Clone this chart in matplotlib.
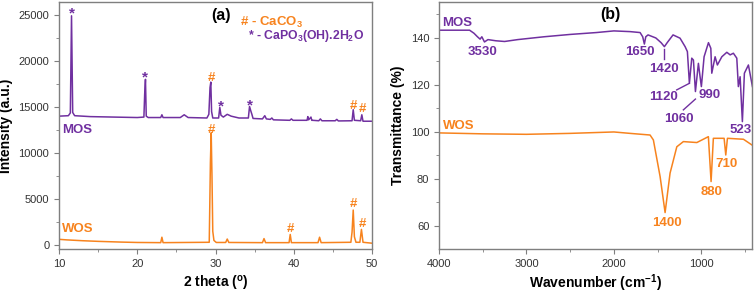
import matplotlib
matplotlib.use("Agg")
import matplotlib.pyplot as plt
from matplotlib.ticker import MultipleLocator

plt.rcParams['font.family'] = ['Liberation Sans', 'DejaVu Sans']
plt.rcParams['mathtext.fontset'] = 'custom'
plt.rcParams['mathtext.bf'] = 'Liberation Sans:bold'
plt.rcParams['mathtext.rm'] = 'Liberation Sans:bold'
plt.rcParams['mathtext.default'] = 'bf'

PURPLE = '#7030A0'
ORANGE = '#F7831E'
GRAY = '#7f7f7f'

# ---- XRD data ----
mos_xrd_2theta = [10.0, 11.2, 11.45, 11.6, 11.75, 12.0, 14.0, 17.0, 20.0, 20.85, 20.95, 21.05, 21.15,
                  21.4, 23.0, 23.15, 23.3, 25.5, 26.0, 26.5, 28.9, 29.15, 29.3, 29.4, 29.5, 29.65,
                  30.4, 30.55, 30.7, 31.0, 31.5, 32.0, 33.0, 34.2, 34.35, 34.5, 34.65, 34.8, 36.0,
                  36.3, 36.5, 37.0, 37.2, 37.4, 39.5, 39.7, 39.9, 41.7, 41.8, 41.9, 42.2, 42.3, 42.4,
                  43.2, 43.4, 43.6, 45.3, 45.5, 45.7, 47.45, 47.6, 47.75, 48.55, 48.7, 48.85, 50.0]
mos_xrd_counts = [14000, 14050, 14350, 24900, 14400, 14050, 13950, 13900, 13850, 13900, 16400, 18000, 14000,
                  13850, 13850, 14150, 13850, 13850, 14150, 13850, 13800, 14200, 17100, 17700, 14500, 13800,
                  13800, 14950, 14100, 13900, 14200, 14000, 13800, 13800, 15050, 14600, 14200, 13750, 13700,
                  14050, 13700, 13650, 13800, 13600, 13550, 13700, 13550, 13550, 13950, 13600, 13900, 13550, 13550,
                  13500, 13700, 13500, 13500, 13650, 13480, 13500, 14700, 13550, 13500, 14150, 13450, 13450]

wos_xrd_2theta = [10.0, 11.0, 13.0, 15.0, 18.0, 20.0, 23.0, 23.15, 23.3, 29.2, 29.35, 29.45, 29.55,
                  29.65, 29.8, 30.1, 31.3, 31.5, 31.7, 36.0, 36.2, 36.4, 39.4, 39.55, 39.7, 43.1, 43.3,
                  43.5, 47.3, 47.45, 47.6, 47.75, 47.95, 48.45, 48.65, 48.85, 50.0]
wos_xrd_counts = [620, 560, 470, 400, 320, 280, 260, 850, 260, 300, 9000, 12200, 7500,
                  1500, 500, 280, 280, 650, 280, 260, 700, 260, 260, 1150, 260, 260, 850,
                  260, 300, 1400, 3800, 900, 300, 300, 1700, 300, 200]

star_2theta = [11.7, 21.05, 30.65, 34.4]
star_y = [25100, 18150, 15000, 15150]
mos_hash_2theta = [29.45, 47.6, 48.75]
mos_hash_y = [18150, 15100, 14750]
wos_hash_2theta = [29.5, 39.6, 47.6, 48.75]
wos_hash_y = [12500, 1750, 4450, 2300]

# ---- FTIR data ----
mos_ir_wn = [4000, 3650, 3600, 3560, 3530, 3510, 3480, 3440, 3350, 3250, 3100, 2800, 2500, 2200,
             2000, 1815, 1700, 1670, 1651, 1635, 1609, 1520, 1460, 1422, 1390, 1323, 1243, 1185,
             1159, 1136, 1109, 1090, 1067, 1033, 1014, 999, 968, 918, 891, 880, 842, 816, 765,
             708, 670, 633, 594, 576, 556, 530, 507, 461, 415]
mos_ir_t = [143.3, 143.3, 142.0, 140.5, 139.5, 140.5, 138.3, 139.3, 138.8, 138.5, 139.3, 140.5, 141.5, 142.3,
            143.0, 142.7, 142.3, 140.5, 137.4, 140.5, 141.3, 140.0, 138.0, 136.3, 138.0, 141.3, 139.9, 136.3,
            134.2, 120.7, 131.4, 130.6, 117.2, 129.2, 123.5, 119.3, 132.0, 138.0, 135.6, 125.0, 132.0, 128.5, 132.0,
            133.9, 132.8, 133.5, 131.4, 119.3, 123.5, 104.4, 125.0, 128.5, 119.3]

wos_ir_wn = [4000, 3500, 3000, 2500, 2000, 1815, 1586, 1548, 1471, 1414, 1357, 1280, 1205, 1051,
             919, 888, 862, 739, 720, 701, 518, 422]
wos_ir_t = [99.6, 99.2, 99.0, 99.4, 100.0, 99.4, 98.7, 96.6, 81.0, 65.7, 82.5, 93.7, 95.9, 95.5,
            98.0, 78.9, 97.3, 97.3, 90.2, 97.3, 96.9, 94.5]

mos_ir_labels = ['3530', '1650', '1420', '1120', '990', '1060', '523']
mos_ir_label_x = [3500, 1700, 1426, 1437, 911, 1254, 545]
mos_ir_label_y = [134.0, 134.0, 126.7, 114.8, 115.7, 105.5, 100.9]
wos_ir_labels = ['1400', '880', '710']
wos_ir_label_x = [1391, 880, 708]
wos_ir_label_y = [61.4, 74.6, 86.4]

fig = plt.figure(figsize=(7.56, 2.96), dpi=100)
ax1 = fig.add_axes([59 / 756, 47 / 296, 313 / 756, 247 / 296])
ax2 = fig.add_axes([439 / 756, 47 / 296, 313 / 756, 247 / 296])

for ax in (ax1, ax2):
    for sp in ax.spines.values():
        sp.set_color(GRAY)
        sp.set_linewidth(1.0)
    ax.tick_params(which='both', direction='out', color=GRAY, labelsize=8, labelcolor='#333333')
    ax.tick_params(which='major', length=3.5)
    ax.tick_params(which='minor', length=2)

# (a) XRD
ax1.plot(mos_xrd_2theta, mos_xrd_counts, color=PURPLE, lw=1.1)
ax1.plot(wos_xrd_2theta, wos_xrd_counts, color=ORANGE, lw=1.1)
ax1.set_xlim(10, 50)
ax1.set_ylim(-430, 26400)
ax1.xaxis.set_major_locator(MultipleLocator(10))
ax1.xaxis.set_minor_locator(MultipleLocator(5))
ax1.yaxis.set_major_locator(MultipleLocator(5000))
ax1.yaxis.set_minor_locator(MultipleLocator(2500))
ax1.set_xlabel('2 theta ($^o$)', fontsize=10, fontweight='bold', labelpad=4)
ax1.set_ylabel('Intensity (a.u.)', fontsize=10, fontweight='bold', labelpad=4)

for x, y in zip(star_2theta, star_y):
    ax1.text(x, y, '*', color=PURPLE, fontsize=11, fontweight='bold', ha='center', va='center')
for x, y in zip(mos_hash_2theta, mos_hash_y):
    ax1.text(x, y, '#', color=ORANGE, fontsize=9.5, fontweight='bold', ha='center', va='center')
for x, y in zip(wos_hash_2theta, wos_hash_y):
    ax1.text(x, y, '#', color=ORANGE, fontsize=9.5, fontweight='bold', ha='center', va='center')

ax1.text(30.7, 24900, '(a)', fontsize=11.5, fontweight='bold', ha='center', va='center')
ax1.text(33.1, 24200, '# - CaCO$_3$', color=ORANGE, fontsize=9.5, fontweight='bold', va='center')
ax1.text(34.2, 22700, '* - CaPO$_3$(OH).2H$_2$O', color=PURPLE, fontsize=8.8, fontweight='bold', va='center')
ax1.text(10.4, 12500, 'MOS', color=PURPLE, fontsize=9.5, fontweight='bold', va='center')
ax1.text(10.4, 1740, 'WOS', color=ORANGE, fontsize=9.5, fontweight='bold', va='center')

# (b) FTIR
ax2.plot(mos_ir_wn, mos_ir_t, color=PURPLE, lw=1.1)
ax2.plot(wos_ir_wn, wos_ir_t, color=ORANGE, lw=1.1)
ax2.set_xlim(4000, 420)
ax2.set_ylim(50.2, 155.3)
ax2.xaxis.set_major_locator(MultipleLocator(1000))
ax2.xaxis.set_minor_locator(MultipleLocator(500))
ax2.yaxis.set_major_locator(MultipleLocator(20))
ax2.yaxis.set_minor_locator(MultipleLocator(10))
ax2.set_xlabel('Wavenumber (cm$^{-1}$)', fontsize=10, fontweight='bold', labelpad=3)
ax2.set_ylabel('Transmittance (%)', fontsize=10, fontweight='bold', labelpad=4)

ax2.text(2040, 149.8, '(b)', fontsize=11.5, fontweight='bold', ha='center', va='center')
ax2.text(3960, 146.4, 'MOS', color=PURPLE, fontsize=9.5, fontweight='bold', va='center')
ax2.text(3960, 102.6, 'WOS', color=ORANGE, fontsize=9.5, fontweight='bold', va='center')

for lab, x, y in zip(mos_ir_labels, mos_ir_label_x, mos_ir_label_y):
    ax2.text(x, y, lab, color=PURPLE, fontsize=9.5, fontweight='bold', ha='center', va='center')
for lab, x, y in zip(wos_ir_labels, wos_ir_label_x, wos_ir_label_y):
    ax2.text(x, y, lab, color=ORANGE, fontsize=9.5, fontweight='bold', ha='center', va='center')

# leader lines to the labels
ax2.plot([1422, 1422], [135.2, 130.9], color=PURPLE, lw=1.0)
ax2.plot([1136, 1281], [120.7, 117.9], color=PURPLE, lw=1.0)
ax2.plot([1067, 1205], [114.0, 109.4], color=PURPLE, lw=1.0)

fig.savefig('out.png', dpi=100)
